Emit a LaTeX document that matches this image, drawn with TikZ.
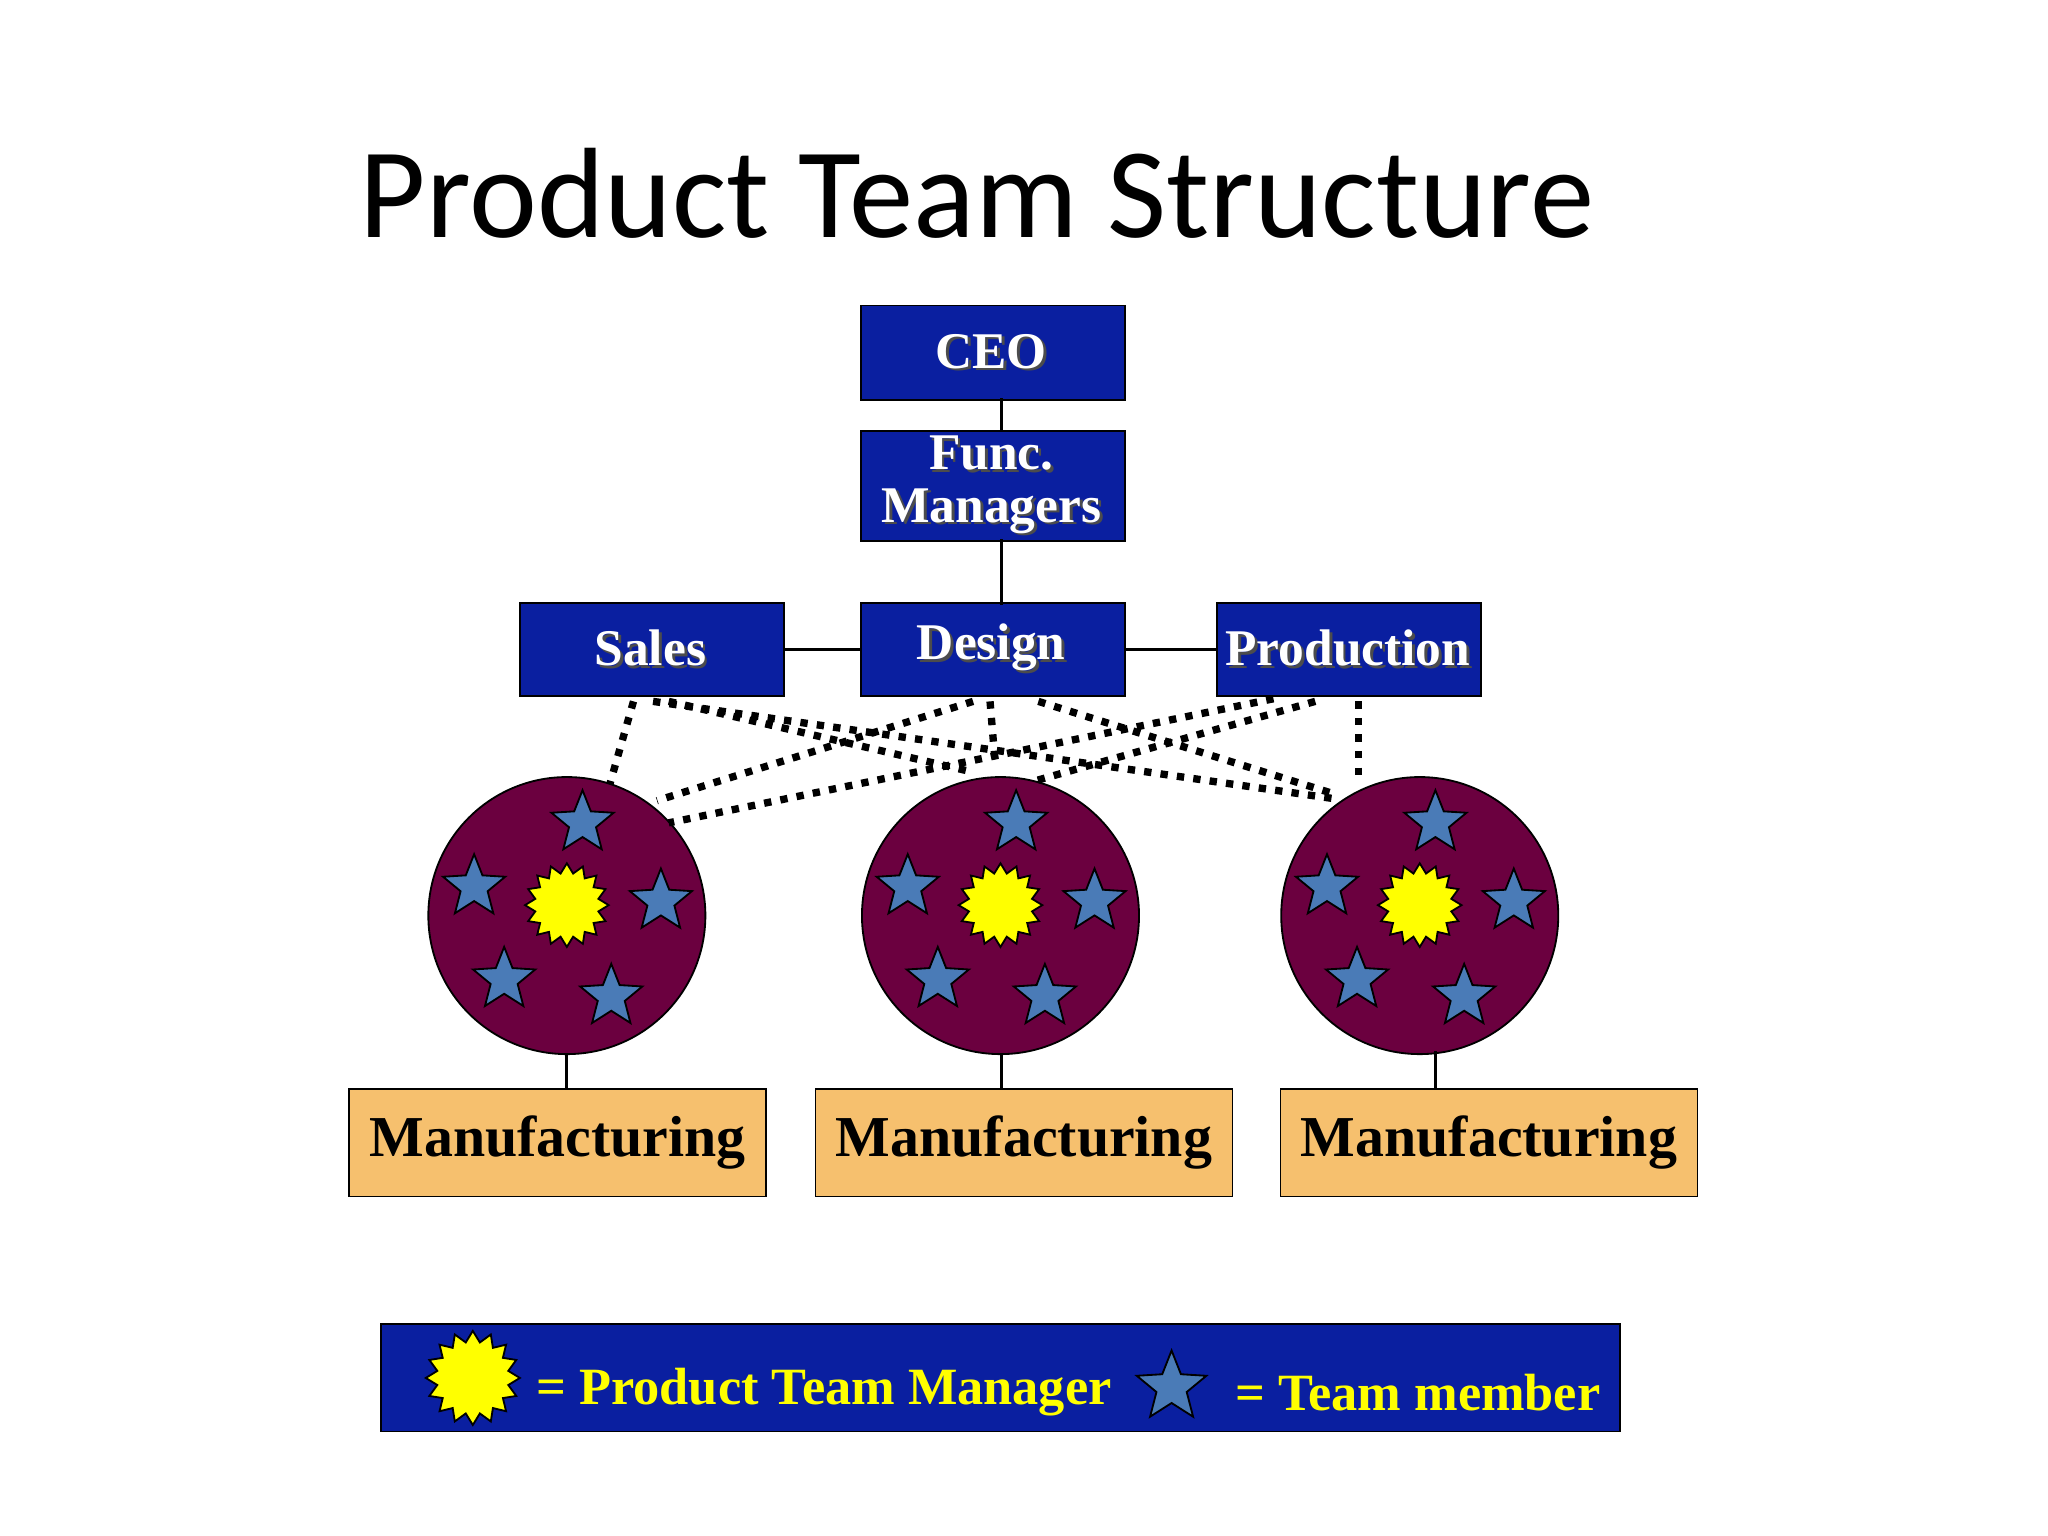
\documentclass[tikz,border=0pt]{standalone}
\usepackage{fontspec}
\setmainfont{Liberation Serif}
\newfontfamily\titlefont{Carlito}
\usetikzlibrary{shapes.geometric}
\definecolor{boxblue}{HTML}{0A1FA0}
\definecolor{maroon}{HTML}{6B003F}
\definecolor{starblue}{HTML}{4A7BB7}
\definecolor{mfg}{HTML}{F6C06E}
\definecolor{sunyel}{HTML}{FFFF00}
\newcommand{\shtxt}[1]{\tikz[baseline=(x.base)]{\node[inner sep=0pt,text=black!70,align=center] at (0.6pt,-0.6pt) {#1};\node[inner sep=0pt,align=center] (x) {#1};}}
\begin{document}
\begin{tikzpicture}[x=0.01cm,y=-0.01cm,
  blue/.style={draw=black,fill=boxblue,minimum width=2cm,inner sep=0pt,text=white,font=\bfseries\fontsize{11.2}{11.5}\selectfont,align=center},
  team/.style={circle,draw=black,fill=maroon,minimum size=2.12cm,inner sep=0pt},
  mem/.style={star,star points=5,star point ratio=2.3,draw=black,fill=starblue,minimum size=0.5cm,inner sep=0pt},
  sun/.style={star,star points=16,star point ratio=1.3,draw=black,fill=sunyel,minimum size=0.64cm,inner sep=0pt},
  mf/.style={draw=black,fill=mfg,minimum width=3.19cm,minimum height=0.82cm,inner sep=0pt,font=\bfseries\fontsize{12.6}{13}\selectfont},
  lg/.style={anchor=west,text=sunyel,font=\bfseries\fontsize{11.4}{12}\selectfont,inner sep=0pt},
  dl/.style={line width=1.6pt,dotted},
  ln/.style={line width=0.7pt}]
\useasboundingbox (0,0) rectangle (1568,1176);
\node (title) at (748,148) {\titlefont\fontsize{28}{28}\selectfont Product Team Structure};
\node[blue,minimum height=0.7cm] (ceo) at (760,270) {\shtxt{CEO}};
\node[blue,minimum height=0.82cm] (fm) at (760,372) {\shtxt{Func.\\Managers}};
\node[blue,minimum height=0.69cm] (sales) at (499,497) {\shtxt{Sales}};
\node[blue,minimum height=0.69cm] (design) at (760,497) {\shtxt{Design}};
\node[blue,minimum height=0.69cm] (prod) at (1033,497) {\shtxt{Production}};
\draw[ln] (767,305) -- (767,331);
\draw[ln] (767,413) -- (767,463);
\draw[ln] (sales.east) -- (design.west);
\draw[ln] (design.east) -- (prod.west);
\foreach \n/\cx in {c1/434,c2/766,c3/1087}{
  \node[team] (\n) at (\cx,701) {};
  \node[sun] (\n s) at (\cx,693) {};
  \node[mem] (\n a) at (\cx+12,630) {};
  \node[mem] (\n b) at (\cx-71,679) {};
  \node[mem] (\n c) at (\cx+72,690) {};
  \node[mem] (\n d) at (\cx-48,750) {};
  \node[mem] (\n e) at (\cx+34,763) {};
}
\node[mf] (m1) at (427,875) {Manufacturing};
\node[mf] (m2) at (784,875) {Manufacturing};
\node[mf] (m3) at (1140,875) {Manufacturing};
\draw[ln] (434,807) -- (434,834);
\draw[ln] (767,807) -- (767,834);
\draw[ln] (1099,805) -- (1099,834);
% dotted
\coordinate (s1) at (485,537); \coordinate (s2) at (500,537); \coordinate (s3) at (512,537);
\coordinate (d1) at (745,537); \coordinate (d2) at (758,537); \coordinate (d3) at (795,537);
\coordinate (p1) at (975,535); \coordinate (p2) at (1007,537); \coordinate (p3) at (1040,537);
\coordinate (t1a) at (467,600); \coordinate (t1b) at (503,613); \coordinate (t1c) at (512,630);
\coordinate (t2a) at (740,590); \coordinate (t2b) at (762,585); \coordinate (t2c) at (792,598);
\coordinate (t3a) at (1025,612); \coordinate (t3b) at (1022,608); \coordinate (t3c) at (1040,600);
\draw[dl] (s1) -- (t1a); \draw[dl] (s2) -- (t3a); \draw[dl] (s3) -- (t2a);
\draw[dl] (d1) -- (t1b); \draw[dl] (d2) -- (t2b); \draw[dl] (d3) -- (t3b);
\draw[dl] (p1) -- (t1c); \draw[dl] (p2) -- (t2c); \draw[dl] (p3) -- (t3c);
% legend
\node[draw=black,fill=boxblue,minimum width=9.48cm,minimum height=0.82cm,inner sep=0pt] (leg) at (766,1055) {};
\node[sun,minimum size=0.72cm] (lsun) at (362,1055) {};
\node[lg] (lt1) at (410,1066) {= Product Team Manager};
\node[mem,minimum size=0.56cm] (lstar) at (897,1062) {};
\node[lg] (lt2) at (945,1066) {= Team member};
\end{tikzpicture}
\end{document}
